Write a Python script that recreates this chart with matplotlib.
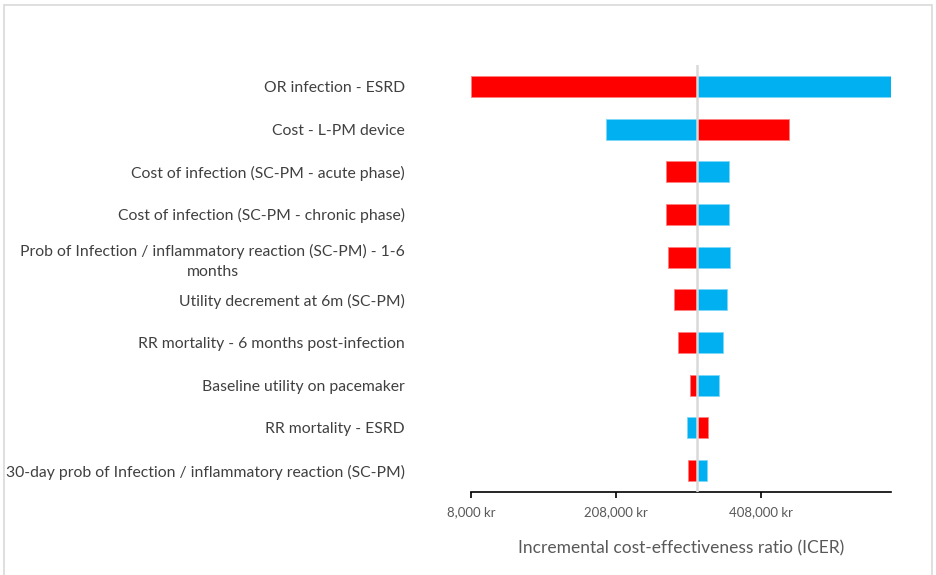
import matplotlib
matplotlib.use("Agg")
import matplotlib.pyplot as plt
from matplotlib.patches import Rectangle
from matplotlib.ticker import FuncFormatter

plt.rcParams['font.family'] = ['Lato', 'DejaVu Sans']

categories = [
    "OR infection - ESRD",
    "Cost - L-PM device",
    "Cost of infection (SC-PM - acute phase)",
    "Cost of infection (SC-PM - chronic phase)",
    "Prob of Infection / inflammatory reaction (SC-PM) - 1-6\nmonths",
    "Utility decrement at 6m (SC-PM)",
    "RR mortality - 6 months post-infection",
    "Baseline utility on pacemaker",
    "RR mortality - ESRD",
    "30-day prob of Infection / inflammatory reaction (SC-PM)",
]
base_icer = 319800
red_values = [8000, 445600, 276200, 276200, 278900, 287600, 292700, 309700, 335000, 306500]
blue_values = [586000, 193950, 363400, 363400, 364800, 361100, 355100, 350100, 305100, 333600]
tick_values = [8000, 208000, 408000]
x_min, x_max = 8000, 586500

fig = plt.figure(figsize=(9.36, 5.75), dpi=100)
fig.patches.append(Rectangle((4/936, -0.02), 928/936, 1.02 - 5/575, transform=fig.transFigure,
                             fill=False, edgecolor='#d9d9d9', linewidth=1.2))
ax = fig.add_axes([471/936, 1 - 492/575, 420/936, 427/575])

red_c = '#FF0000'
blue_c = '#00B0F0'
h = 0.49
for i, (r, b) in enumerate(zip(red_values, blue_values)):
    ax.barh(i, r - base_icer, left=base_icer, height=h, color=red_c,
            edgecolor='#ff8080', linewidth=0.6, zorder=2)
    ax.barh(i, b - base_icer, left=base_icer, height=h, color=blue_c,
            edgecolor='#80d8f8', linewidth=0.6, zorder=2)

ax.axvline(base_icer, color='#d9d9d9', linewidth=1.8, zorder=3)

ax.set_xlim(x_min, x_max)
ax.set_ylim(len(categories) - 0.5, -0.5)
ax.set_xticks(tick_values)
ax.xaxis.set_major_formatter(FuncFormatter(lambda v, p: f"{int(v):,} kr"))
ax.tick_params(axis='x', direction='out', length=4, width=1.2, color='black',
               labelsize=9.5, labelcolor='#595959', pad=6)
ax.set_yticks(range(len(categories)))
ax.set_yticklabels(categories, fontsize=11.3, color='#404040')
for lbl in ax.get_yticklabels():
    lbl.set_multialignment('center')
    lbl.set_linespacing(1.55)
ax.tick_params(axis='y', length=0, pad=47.5)

for s in ['top', 'right', 'left']:
    ax.spines[s].set_visible(False)
ax.spines['bottom'].set_linewidth(1.2)
ax.spines['bottom'].set_color('black')

ax.set_xlabel("Incremental cost-effectiveness ratio (ICER)", fontsize=12.5,
              color='#595959', labelpad=16)

fig.savefig("out.png", dpi=100)
